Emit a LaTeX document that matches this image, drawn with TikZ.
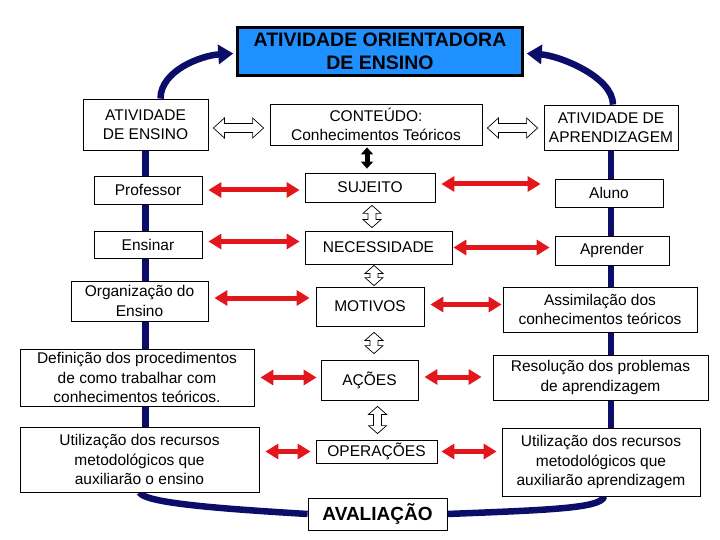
\documentclass[tikz,border=0pt]{standalone}
\usepackage{fontspec}
\setmainfont{Liberation Sans}
\usetikzlibrary{arrows.meta,calc,backgrounds}
\definecolor{navy}{HTML}{0C0C6A}
\definecolor{skyblue}{HTML}{1E90FF}
\definecolor{alertred}{HTML}{E3161B}
\newcommand{\cellfont}{\fontsize{15.5}{19.5}\selectfont}
\tikzset{
  cell/.style={draw=black, fill=white, line width=0.8pt, align=center, inner sep=2pt, font=\cellfont},
  link/.style={alertred, line width=5pt, {Triangle[length=13pt,width=15pt]}-{Triangle[length=13pt,width=15pt]}},
  spine/.style={navy, line width=6.5pt},
  loopback/.style={spine, -{Triangle[length=15pt,width=19pt]}},
  hollow/.style={draw=black, fill=white, line width=0.7pt, line join=miter},
  solidlink/.style={black, line width=5pt, {Triangle[length=7pt,width=12pt]}-{Triangle[length=7pt,width=12pt]}},
}
% outlined double arrow: from, to, head length, head half width, shaft half width
\newcommand{\hollowarr}[5]{%
  \path (#1) coordinate (ha) (#2) coordinate (hb);
  \draw[hollow] (ha)
    -- ($(ha)!#3!(hb)!#4!90:(hb)$) -- ($(ha)!#3!(hb)!#5!90:(hb)$)
    -- ($(hb)!#3!(ha)!#5!-90:(ha)$) -- ($(hb)!#3!(ha)!#4!-90:(ha)$)
    -- (hb)
    -- ($(hb)!#3!(ha)!#4!90:(ha)$) -- ($(hb)!#3!(ha)!#5!90:(ha)$)
    -- ($(ha)!#3!(hb)!#5!-90:(hb)$) -- ($(ha)!#3!(hb)!#4!-90:(hb)$)
    -- cycle;
}

\begin{document}
\begin{tikzpicture}[x=1pt, y=-1pt]
  \useasboundingbox (0,0) rectangle (720,540);

  % title
  \node[draw=black, line width=2.5pt, fill=skyblue, minimum width=285pt, minimum height=48pt,
        align=center, font=\bfseries\fontsize{19.5}{23}\selectfont] (title) at (380,51.5)
        {ATIVIDADE ORIENTADORA\\DE ENSINO};

  % top row
  \node[cell, minimum width=125pt, minimum height=51pt] (ens) at (145.5,124.5) {ATIVIDADE\\DE ENSINO};
  \node[cell, minimum width=212pt, minimum height=41pt] (cont) at (376,124.5) {CONTEÚDO:\\Conhecimentos Teóricos};
  \node[cell, minimum width=134pt, minimum height=45pt] (apr) at (611,127.5) {ATIVIDADE DE\\APRENDIZAGEM};

  % left column
  \node[cell, minimum width=108pt, minimum height=28pt] (prof) at (148,190) {Professor};
  \node[cell, minimum width=108pt, minimum height=27pt] (ensinar) at (148,244.5) {Ensinar};
  \node[cell, minimum width=137pt, minimum height=40pt] (org) at (139.5,301) {Organização do\\Ensino};
  \node[cell, minimum width=234pt, minimum height=57pt] (def) at (137,377.5)
    {Definição dos procedimentos\\de como trabalhar com\\conhecimentos teóricos.};
  \node[cell, minimum width=239pt, minimum height=65pt] (utilL) at (139.5,459.5)
    {Utilização dos recursos\\metodológicos que\\auxiliarão o ensino};

  % middle column
  \node[cell, minimum width=130pt, minimum height=29pt] (suj) at (370,187.5) {SUJEITO};
  \node[cell, minimum width=147pt, minimum height=33pt] (nec) at (378.5,247.5) {NECESSIDADE};
  \node[cell, minimum width=108pt, minimum height=39pt] (mot) at (370,306.5) {MOTIVOS};
  \node[cell, minimum width=97pt, minimum height=40pt] (acoes) at (369.5,380) {AÇÕES};
  \node[cell, minimum width=121pt, minimum height=23pt] (oper) at (376.5,451.5) {OPERAÇÕES};
  \node[cell, minimum width=139pt, minimum height=32pt, font=\bfseries\fontsize{19}{22}\selectfont]
    (aval) at (377.5,514) {AVALIAÇÃO};

  % right column
  \node[cell, minimum width=108pt, minimum height=28pt] (aluno) at (609,193) {Aluno};
  \node[cell, minimum width=114pt, minimum height=29pt] (aprender) at (612,250.5) {Aprender};
  \node[cell, minimum width=194pt, minimum height=45pt] (assim) at (600,309.5)
    {Assimilação dos\\conhecimentos teóricos};
  \node[cell, minimum width=215pt, minimum height=45pt] (resol) at (600.5,377.5)
    {Resolução dos problemas\\de aprendizagem};
  \node[cell, minimum width=198pt, minimum height=68pt] (utilR) at (601,462)
    {Utilização dos recursos\\metodológicos que\\auxiliarão aprendizagem};

  % navy spines behind the boxes
  \begin{scope}[on background layer]
    \draw[spine] (ens.south) -- (ens.south |- utilL.north);
    \draw[spine] (apr.south) -- (apr.south |- utilR.north);
    \draw[spine] (utilL.south) .. controls +(5,10) and +(-100,-6) .. (aval.west);
    \draw[spine] (aval.east) .. controls +(100,-4) and +(-2,12) .. ([xshift=3pt]utilR.south);
  \end{scope}
  \draw[loopback] ([xshift=15pt]ens.north) .. controls +(0,-28) and +(-32,2) .. ([xshift=-3pt,yshift=-2pt]title.west);
  \draw[loopback] ([xshift=2pt]apr.north) .. controls +(0,-28) and +(32,2) .. ([xshift=3pt,yshift=-2pt]title.east);

  % outlined arrows
  \hollowarr{[xshift=5pt,yshift=-3.5pt]ens.east}{[xshift=-6pt,yshift=-3.5pt]ens.east -| cont.west}{11pt}{10pt}{4.5pt}
  \hollowarr{[xshift=5pt,yshift=-3.5pt]cont.east}{[xshift=-6pt,yshift=-3.5pt]cont.east -| apr.west}{11pt}{10pt}{4.5pt}
  \hollowarr{[xshift=2pt,yshift=-3pt]suj.south}{[xshift=2pt,yshift=3pt]suj.south |- nec.north}{8pt}{9pt}{4pt}
  \hollowarr{[xshift=4pt,yshift=-1pt]mot.north |- nec.south}{[xshift=4pt,yshift=1pt]mot.north}{8pt}{9pt}{4pt}
  \hollowarr{[xshift=4pt,yshift=-6pt]mot.south}{[xshift=4pt,yshift=6pt]mot.south |- acoes.north}{8pt}{9pt}{4pt}
  \hollowarr{[xshift=8pt,yshift=-6pt]acoes.south}{[xshift=8pt,yshift=6pt]acoes.south |- oper.north}{8pt}{9pt}{4pt}

  \draw[solidlink, shorten <=2pt, shorten >=4pt] ([xshift=-3pt]suj.north |- cont.south) -- ([xshift=-3pt]suj.north);

  % red links
  \draw[link, shorten <=6pt, shorten >=5pt] (prof.east) -- (prof.east -| suj.west);
  \draw[link, shorten <=6pt, shorten >=14pt] ([yshift=3.5pt]suj.east) -- ([yshift=3.5pt]suj.east -| aluno.west);
  \draw[link, shorten <=6pt, shorten >=5pt] ([yshift=3pt]ensinar.east) -- ([yshift=3pt]ensinar.east -| nec.west);
  \draw[link, shorten <=1pt, shorten >=5pt] (nec.east) -- (nec.east -| aprender.west);
  \draw[link, shorten <=6pt, shorten >=6pt] ([yshift=3pt]org.east) -- ([yshift=3pt]org.east -| mot.west);
  \draw[link, shorten <=6pt, shorten >=1pt] ([yshift=2pt]mot.east) -- ([yshift=2pt]mot.east -| assim.west);
  \draw[link, shorten <=6pt, shorten >=4pt] (def.east) -- (def.east -| acoes.west);
  \draw[link, shorten <=6pt, shorten >=11pt] ([yshift=3pt]acoes.east) -- ([yshift=3pt]acoes.east -| resol.west);
  \draw[link, shorten <=6pt, shorten >=5pt] (oper.west -| utilL.east) -- (oper.west);
  \draw[link, shorten <=4pt, shorten >=5pt] (oper.east) -- (oper.east -| utilR.west);
\end{tikzpicture}
\end{document}
